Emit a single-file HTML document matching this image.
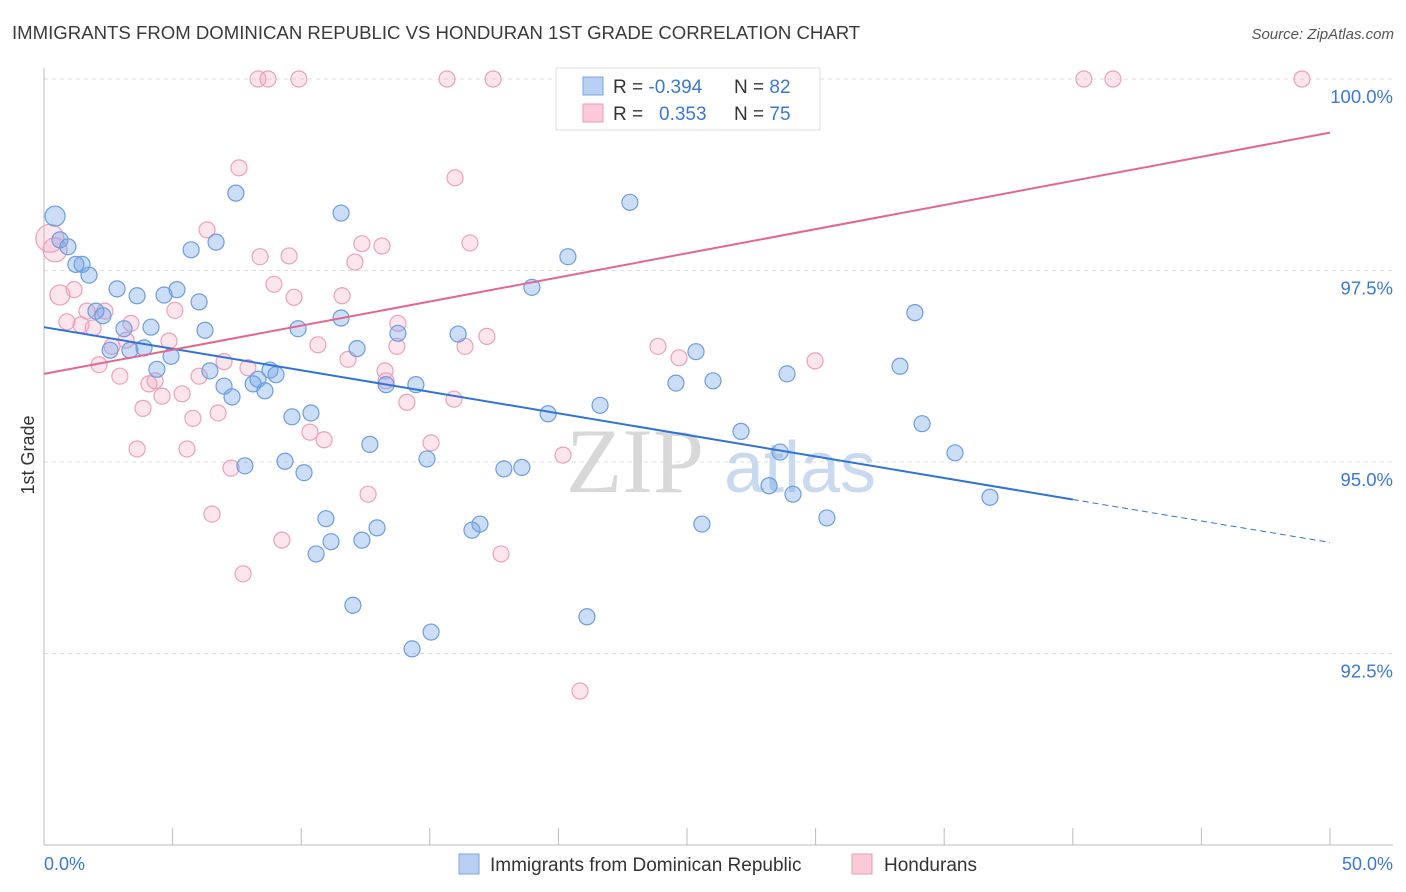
<!DOCTYPE html>
<html><head><meta charset="utf-8"><style>
body{margin:0;background:#fff;font-family:"Liberation Sans",sans-serif;}
svg{display:block}
</style></head><body>
<svg id="chart" width="1406" height="892" font-family="Liberation Sans, sans-serif">
<text x="12" y="39" font-size="18.6" fill="#3a3a3a">IMMIGRANTS FROM DOMINICAN REPUBLIC VS HONDURAN 1ST GRADE CORRELATION CHART</text>
<text x="1394" y="39" font-size="15" fill="#555" font-style="italic" text-anchor="end">Source: ZipAtlas.com</text>
<text x="34" y="455" font-size="18" fill="#333" transform="rotate(-90 34 455)" text-anchor="middle">1st Grade</text>
<g id="grid"></g>
<g id="axes"></g>
<g>
<text x="635" y="492" font-size="92" fill="#d8d8d8" font-family="Liberation Serif, serif" text-anchor="middle">ZIP</text>
<text x="800" y="492" font-size="72" fill="#c9d9f0" text-anchor="middle">atlas</text>
</g>
<g id="pts"></g>
<g id="lines"></g>
<g>
<rect x="556" y="68" width="264" height="62" fill="#fff" stroke="#ddd"/>
<rect x="583" y="77" width="20" height="18" fill="#b9d0f3" stroke="#7ba4e0"/>
<rect x="583" y="104" width="20" height="18" fill="#fbc9d8" stroke="#ea9ab6"/>
<text x="613" y="93" font-size="19" fill="#333">R = <tspan fill="#3a78d8">-0.394</tspan></text>
<text x="734" y="93" font-size="19" fill="#333">N = <tspan fill="#3a78d8">82</tspan></text>
<text x="613" y="120" font-size="19" fill="#333">R = <tspan fill="#3a78d8" x="659">0.353</tspan></text>
<text x="734" y="120" font-size="19" fill="#333">N = <tspan fill="#3a78d8">75</tspan></text>
</g>
<g>
<rect x="459" y="854" width="20" height="20" fill="#b9d0f3" stroke="#7ba4e0"/>
<text x="490" y="871" font-size="19" fill="#333">Immigrants from Dominican Republic</text>
<rect x="852" y="854" width="20" height="20" fill="#fbc9d8" stroke="#ea9ab6"/>
<text x="884" y="871" font-size="19" fill="#333">Hondurans</text>
</g>
</svg>
<script>
const yTicks=[92.5,95.0,97.5,100.0];
const xTickVals=[0,5,10,15,20,25,30,35,40,45,50];
const blueX=[.43,.62,.93,1.24,1.48,1.75,2.02,2.29,2.57,2.84,3.11,3.34,3.62,3.89,4.16,4.39,4.67,4.94,5.17,5.72,6.03,6.26,6.45,6.69,7.00,7.31,7.46,7.81,8.13,8.32,8.59,8.79,9.02,9.37,9.64,9.88,10.11,10.38,10.58,10.96,11.16,11.55,11.55,12.01,12.17,12.36,12.67,12.95,13.30,13.76,14.31,14.46,14.89,15.05,16.10,16.64,16.95,17.88,18.58,18.97,19.60,20.37,21.11,21.62,22.78,24.57,25.35,25.58,26.01,27.10,28.19,28.62,28.89,29.12,30.44,33.28,33.86,34.14,35.42,36.78];
const blueY=[98.21,97.90,97.81,97.58,97.58,97.44,96.97,96.91,96.46,97.26,96.74,96.46,97.17,96.49,96.76,96.21,97.18,96.38,97.25,97.77,97.09,96.72,96.19,97.87,95.99,95.85,98.51,94.95,96.02,96.08,95.93,96.20,96.14,95.01,95.59,96.74,94.86,95.64,93.80,94.26,93.96,98.25,96.88,93.13,96.48,93.98,95.23,94.14,96.01,96.68,92.56,96.01,95.04,92.78,96.67,94.11,94.19,94.91,94.93,97.28,95.63,97.68,92.98,95.74,98.39,96.03,96.44,94.19,96.06,95.40,94.69,95.13,96.15,94.58,94.27,96.25,96.95,95.50,95.12,94.54];
const blueR=[10];
const pinkX=[.23,.43,.62,.89,1.17,1.44,1.67,1.91,2.14,2.37,2.64,2.95,3.19,3.38,3.62,3.85,4.08,4.32,4.59,4.86,5.09,5.37,5.56,5.79,6.03,6.34,6.53,6.77,7.00,7.27,7.58,7.74,7.93,8.32,8.40,8.71,8.94,9.25,9.53,9.72,9.91,10.34,10.65,10.89,11.59,11.82,12.09,12.36,12.60,13.14,13.26,13.30,13.72,13.76,14.11,15.05,15.67,15.94,15.98,16.37,16.56,17.22,17.46,17.77,20.18,20.84,23.87,24.69,29.98,40.43,41.56,48.91,28.11];
const pinkY=[97.92,97.77,97.18,96.83,97.25,96.79,96.97,96.75,96.27,96.97,96.51,96.12,96.59,96.81,95.17,95.70,96.02,96.06,95.86,96.58,96.98,95.89,95.17,95.57,96.12,98.03,94.32,95.64,96.31,94.92,98.84,93.54,96.23,100,97.68,100,97.32,93.98,97.69,97.15,100,95.39,96.53,95.29,97.17,96.34,97.61,97.85,94.58,97.82,96.19,96.06,96.51,96.81,95.78,95.25,100,95.82,98.71,96.51,97.86,96.64,100,93.80,95.09,92.01,96.51,96.36,96.32,100,100,100,100];
const pinkR=[14,12,10];
const blueTrendX=[0,40,50];
const blueTrendY=[96.76,94.51,93.95];
const pinkTrendX=[0,50];
const pinkTrendY=[96.15,99.30];

const NS="http://www.w3.org/2000/svg";
const X=v=>44+v/50*1286;
const Y=v=>79+(100-v)*76.6;
function mk(tag,attrs,parent){const e=document.createElementNS(NS,tag);for(const k in attrs)e.setAttribute(k,attrs[k]);parent.appendChild(e);return e;}
const grid=document.getElementById('grid'),axes=document.getElementById('axes');
yTicks.forEach(t=>{
  const l=mk('line',{x1:44,x2:1393,y1:Y(t),y2:Y(t),stroke:'#ddd','stroke-dasharray':'4 4'},grid);
  
  
  const tx=mk('text',{x:1393,y:Y(t)+24,'font-size':18.5,fill:'#3a78d8','text-anchor':'end'},axes);
  tx.textContent=t.toFixed(1)+'%';
  
  
});
const ax=mk('line',{x1:44,x2:1393,y1:845,y2:845,stroke:'#bbb'},axes);


const ay=mk('line',{x1:44,x2:44,y1:68,y2:845,stroke:'#bbb'},axes);


xTickVals.forEach(t=>{
  const l=mk('line',{x1:X(t),x2:X(t),y1:828,y2:845,stroke:'#bbb'},axes);
  
  
});
const xl0=mk('text',{x:44,y:870,'font-size':18,fill:'#3a78d8'},axes);xl0.textContent=xTickVals[0].toFixed(1)+'%';


const xl1=mk('text',{x:1393,y:870,'font-size':18,fill:'#3a78d8','text-anchor':'end'},axes);xl1.textContent=xTickVals[xTickVals.length-1].toFixed(1)+'%';



const pts=document.getElementById('pts');
pinkX.forEach((v,i)=>{
  const c=mk('circle',{cx:X(v),cy:Y(pinkY[i]),r:pinkR[i]||8,fill:'rgba(245,160,190,0.28)',stroke:'#eba0bb','stroke-width':1.2},pts);
  
  
});
blueX.forEach((v,i)=>{
  const c=mk('circle',{cx:X(v),cy:Y(blueY[i]),r:blueR[i]||8,fill:'rgba(110,160,230,0.35)',stroke:'#6c9de0','stroke-width':1.2},pts);
  
  
});
const lines=document.getElementById('lines');
const bl=mk('line',{x1:X(blueTrendX[0]),y1:Y(blueTrendY[0]),x2:X(blueTrendX[1]),y2:Y(blueTrendY[1]),stroke:'#2f73d8','stroke-width':2},lines);


const bd=mk('line',{x1:X(blueTrendX[1]),y1:Y(blueTrendY[1]),x2:X(blueTrendX[2]),y2:Y(blueTrendY[2]),stroke:'#2f73d8','stroke-width':1,'stroke-dasharray':'6 4'},lines);


const pl=mk('line',{x1:X(pinkTrendX[0]),y1:Y(pinkTrendY[0]),x2:X(pinkTrendX[1]),y2:Y(pinkTrendY[1]),stroke:'#e4668f','stroke-width':2},lines);


</script>
</body></html>
